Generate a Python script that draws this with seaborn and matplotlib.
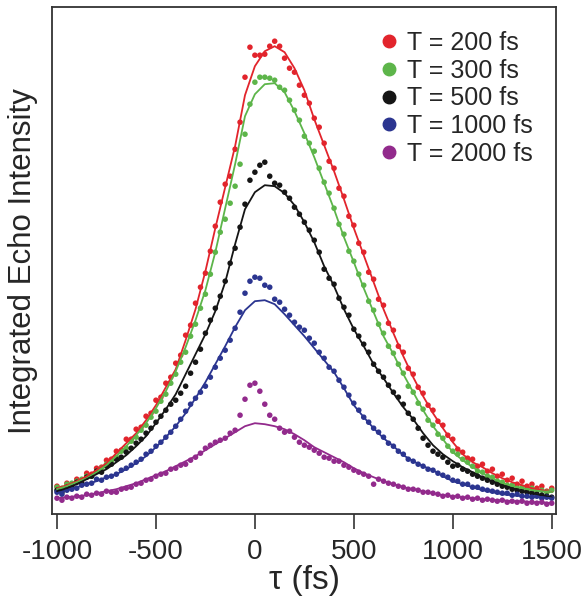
import numpy as np
import pandas as pd
import seaborn as sns
import matplotlib.pyplot as plt
from matplotlib.lines import Line2D

sns.set_style('ticks')
plt.rcParams['font.family'] = ['Liberation Sans', 'DejaVu Sans']
plt.rcParams['axes.unicode_minus'] = False

# waiting times and colours
labels = ['T = 200 fs', 'T = 300 fs', 'T = 500 fs', 'T = 1000 fs', 'T = 2000 fs']
colors = ['#e2242c', '#5db54a', '#151515', '#2b3590', '#922a8c']

# delay grid of the measured points (fs) and of the fitted curves
tau_pts = np.arange(-1000, 1501, 25)
tau_fit = np.arange(-1000, 1501, 50)

# measured echo intensity (arb. units)
pts_200 = [28, 25, 31, 30, 35, 34, 41, 40, 46, 47,
           54, 55, 63, 64, 75, 75, 85, 87, 98, 101,
           114, 117, 131, 137, 151, 159, 179, 189, 211, 227,
           241, 263, 288, 312, 330, 338, 365, 392, 437, 467,
           459, 459, 460, 468, 473, 468, 456, 446, 442, 429,
           419, 411, 396, 387, 371, 353, 346, 326, 318, 298,
           289, 271, 262, 242, 235, 215, 209, 191, 184, 168,
           162, 146, 140, 127, 121, 109, 104, 93, 89, 79,
           75, 65, 62, 56, 55, 48, 50, 43, 45, 38,
           40, 34, 36, 30, 33, 28, 30, 26, 28, 23,
           26]
pts_300 = [27, 26, 30, 31, 33, 35, 38, 38, 43, 46,
           50, 53, 57, 63, 66, 73, 77, 84, 89, 97,
           103, 113, 120, 131, 140, 152, 162, 178, 190, 206,
           220, 240, 262, 282, 295, 311, 328, 350, 380, 410,
           432, 437, 437, 436, 434, 427, 424, 414, 404, 394,
           378, 371, 363, 346, 332, 321, 306, 290, 280, 263,
           253, 240, 229, 213, 204, 190, 181, 168, 161, 150,
           141, 128, 122, 111, 105, 94, 89, 80, 76, 68,
           63, 60, 55, 52, 48, 43, 42, 38, 37, 33,
           32, 29, 29, 26, 27, 24, 26, 23, 24, 22,
           24]
pts_500 = [24, 22, 27, 28, 32, 31, 37, 38, 43, 42,
           48, 50, 55, 57, 62, 66, 71, 75, 81, 86,
           92, 98, 104, 110, 114, 121, 128, 141, 152, 165,
           181, 194, 206, 218, 233, 251, 266, 287, 310, 334,
           342, 349, 352, 338, 331, 329, 322, 316, 307, 300,
           292, 284, 274, 262, 245, 236, 230, 216, 207, 199,
           185, 178, 170, 162, 150, 143, 137, 129, 122, 117,
           110, 101, 95, 86, 76, 69, 63, 60, 57, 52,
           48, 49, 45, 43, 40, 38, 36, 34, 32, 30,
           28, 27, 25, 24, 23, 22, 21, 20, 19, 18,
           17]
pts_1000 = [22, 20, 24, 25, 26, 29, 30, 31, 35, 34,
            37, 38, 40, 44, 46, 49, 52, 55, 60, 63,
            68, 72, 77, 82, 88, 95, 103, 110, 116, 122,
            128, 137, 147, 156, 164, 174, 186, 202, 221, 233,
            237, 236, 229, 227, 215, 212, 205, 199, 192, 187,
            184, 176, 171, 162, 156, 147, 143, 134, 127, 119,
            111, 104, 97, 92, 86, 82, 77, 71, 68, 63,
            60, 55, 53, 50, 48, 45, 44, 41, 39, 37,
            34, 33, 30, 30, 27, 27, 25, 24, 23, 22,
            21, 21, 19, 20, 18, 18, 17, 18, 16, 17,
            16]
pts_2000 = [16, 14, 17, 16, 18, 17, 20, 19, 21, 20,
            23, 22, 22, 25, 26, 27, 30, 31, 34, 35,
            38, 40, 41, 45, 46, 49, 50, 54, 57, 61,
            66, 69, 72, 74, 76, 81, 84, 99, 115, 129,
            131, 123, 110, 99, 95, 86, 82, 83, 77, 72,
            69, 67, 64, 61, 57, 56, 53, 53, 49, 47,
            44, 42, 40, 38, 30, 35, 33, 31, 30, 28,
            27, 25, 25, 24, 22, 22, 21, 20, 18, 19,
            17, 18, 16, 17, 15, 16, 14, 15, 14, 13,
            14, 12, 13, 12, 13, 11, 12, 11, 12, 10,
            11]

# fitted curves
fit_200 = [26, 29, 33, 38, 44, 51, 61, 71, 81, 94,
           109, 127, 145, 174, 205, 243, 286, 327, 368, 419,
           448, 463, 468, 462, 446, 424, 395, 369, 343, 315,
           286, 259, 232, 205, 181, 158, 137, 118, 101, 86,
           72, 60, 52, 47, 41, 36, 32, 29, 26, 24,
           22]
fit_300 = [25, 28, 32, 36, 42, 49, 58, 68, 79, 91,
           106, 123, 143, 167, 194, 224, 262, 306, 350, 398,
           420, 430, 431, 422, 403, 381, 357, 331, 305, 277,
           252, 226, 202, 178, 160, 140, 122, 104, 88, 75,
           62, 54, 47, 41, 36, 31, 28, 26, 24, 23,
           22]
fit_500 = [23, 26, 30, 35, 40, 45, 52, 59, 68, 78,
           91, 105, 120, 140, 160, 180, 203, 232, 270, 305,
           322, 329, 328, 321, 309, 292, 272, 248, 228, 205,
           185, 168, 150, 136, 121, 107, 95, 81, 69, 60,
           53, 47, 42, 37, 33, 29, 26, 23, 21, 19,
           17]
fit_1000 = [21, 24, 27, 30, 33, 37, 40, 45, 51, 58,
            67, 77, 88, 101, 116, 132, 150, 168, 187, 204,
            213, 214, 210, 200, 189, 178, 166, 154, 142, 126,
            109, 97, 86, 76, 68, 59, 53, 48, 44, 38,
            33, 30, 27, 24, 22, 20, 19, 18, 17, 17,
            16]
fit_2000 = [16, 17, 18, 19, 21, 23, 25, 28, 31, 35,
            39, 43, 48, 53, 58, 64, 70, 76, 82, 88,
            91, 90, 88, 85, 80, 74, 67, 62, 57, 52,
            46, 41, 37, 33, 30, 27, 25, 23, 21, 19,
            18, 17, 16, 15, 14, 14, 13, 13, 12, 12,
            11]

all_pts = [pts_200, pts_300, pts_500, pts_1000, pts_2000]
all_fits = [fit_200, fit_300, fit_500, fit_1000, fit_2000]

df_pts = pd.concat([pd.DataFrame({'tau': tau_pts, 'intensity': p, 'T': lab})
                    for p, lab in zip(all_pts, labels)], ignore_index=True)
df_fit = pd.concat([pd.DataFrame({'tau': tau_fit, 'intensity': f, 'T': lab})
                    for f, lab in zip(all_fits, labels)], ignore_index=True)
palette = dict(zip(labels, colors))

fig = plt.figure(figsize=(5.87, 6.0), dpi=100)
ax = fig.add_axes([0.088, 0.143, 0.860, 0.845])

sns.scatterplot(data=df_pts, x='tau', y='intensity', hue='T', palette=palette,
                s=16, linewidth=0, legend=False, ax=ax, zorder=2)
sns.lineplot(data=df_fit, x='tau', y='intensity', hue='T', palette=palette,
             lw=1.3, legend=False, ax=ax, zorder=3)

ax.set_xlim(-1027, 1524)
ax.set_ylim(0, 507)
ax.set_xticks([-1000, -500, 0, 500, 1000, 1500])
ax.set_yticks([])
ax.tick_params(axis='x', direction='out', length=11, width=1.2, color='#333333',
               labelsize=20, pad=7)
for sp in ax.spines.values():
    sp.set_linewidth(1.3)
    sp.set_color('#333333')

ax.set_xlabel('τ (fs)', fontsize=24, labelpad=0)
ax.set_ylabel('Integrated Echo Intensity', fontsize=22.5, labelpad=10)

handles = [Line2D([], [], marker='o', ls='', color=c, markersize=9) for c in colors]
ax.legend(handles, labels, loc='upper right', bbox_to_anchor=(1.0, 1.0),
          frameon=False, fontsize=18, labelspacing=0.15, handlelength=1.0,
          handletextpad=0.2, borderaxespad=0.55)

fig.savefig('out.png', dpi=100)
